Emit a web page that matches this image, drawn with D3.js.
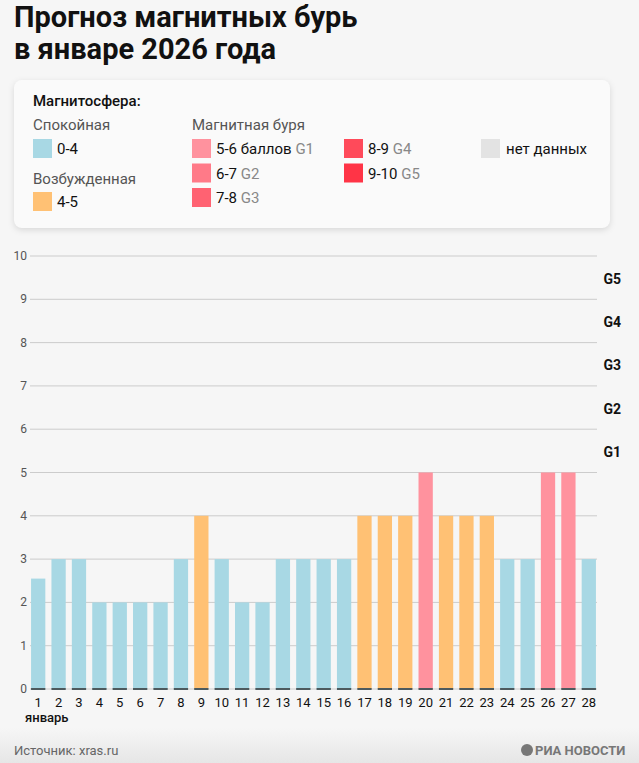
<!DOCTYPE html>
<html><head><meta charset="utf-8">
<script src="https://cdn.jsdelivr.net/npm/d3@7"></script>
<style>body{margin:0;background:#f6f6f6;font-family:Roboto,sans-serif}</style>
</head><body><svg id="c" width="639" height="763"></svg>
<script>
const days = d3.range(1, 29);
const values = [2.55,3,3,2,2,2,2,3,4,3,2,2,3,3,3,3,4,4,4,5,4,4,4,3,3,5,5,3];
const yTicks = d3.range(0, 11);
const gLabels = ["G1","G2","G3","G4","G5"];
const legendLeft = [["Спокойная",null],["0-4","#a8d8e4"],["Возбужденная",null],["4-5","#ffc174"]];
const legendStorm = [["5-6 баллов","G1","#ff929e"],["6-7","G2","#ff7a88"],["7-8","G3","#ff6272"],["8-9","G4","#ff4a5a"],["9-10","G5","#ff3446"]];

const svg = d3.select("#c");
svg.append("rect").attr("width",639).attr("height",763).attr("fill","#f6f6f6");
const grad = svg.append("defs").append("linearGradient").attr("id","fg").attr("x1",0).attr("x2",0).attr("y1",0).attr("y2",1);
grad.append("stop").attr("offset",0).attr("stop-color","#f6f6f6");
grad.append("stop").attr("offset",1).attr("stop-color","#e6e6e6");
svg.append("rect").attr("y",728).attr("width",639).attr("height",35).attr("fill","url(#fg)");

// title
svg.append("text").attr("x",14).attr("y",27).attr("font-size",29).attr("font-weight",700).attr("fill","#111").text("Прогноз магнитных бурь");
svg.append("text").attr("x",14).attr("y",59).attr("font-size",29).attr("font-weight",700).attr("fill","#111").text("в январе 2026 года");

// legend box
svg.append("rect").attr("x",14).attr("y",80).attr("width",596).attr("height",148).attr("rx",8)
  .attr("fill","#fafafa").style("filter","drop-shadow(0 2px 3px rgba(0,0,0,0.12))");
const lg = svg.append("g").attr("font-size",15);
lg.append("text").attr("x",33).attr("y",106).attr("font-weight",500).attr("fill","#111").text("Магнитосфера:");
const leftY = [130,154,184,207];
legendLeft.forEach((d,i)=>{
  if(!d[1]) lg.append("text").attr("x",33).attr("y",leftY[i]).attr("fill","#555").text(d[0]);
  else {
    lg.append("rect").attr("x",33).attr("y",leftY[i]-15).attr("width",19).attr("height",19).attr("fill",d[1]);
    lg.append("text").attr("x",57).attr("y",leftY[i]).attr("fill","#111").text(d[0]);
  }
});
lg.append("text").attr("x",192).attr("y",130).attr("fill","#555").text("Магнитная буря");
legendStorm.forEach((d,i)=>{
  const x = i<3?192:344, y = 154+(i%3)*24.5;
  lg.append("rect").attr("x",x).attr("y",y-15).attr("width",19).attr("height",19).attr("fill",d[2]);
  const t = lg.append("text").attr("x",x+24).attr("y",y).attr("fill","#111").text(d[0]+" ");
  t.append("tspan").attr("fill","#888").text(d[1]);
});
lg.append("rect").attr("x",481).attr("y",139).attr("width",19).attr("height",19).attr("fill","#e3e3e3");
lg.append("text").attr("x",506).attr("y",154).attr("fill","#111").text("нет данных");

// chart
const x = d3.scaleBand().domain(days).range([28,599]).paddingInner(0.3).paddingOuter(0.15);
const y = d3.scaleLinear().domain([0,10]).range([689,256]);
const gy = svg.append("g");
yTicks.forEach(t=>{
  gy.append("line").attr("x1",30).attr("x2",597).attr("y1",y(t)).attr("y2",y(t)).attr("stroke","#ccc");
  gy.append("text").attr("x",27).attr("y",y(t)+4).attr("text-anchor","end").attr("font-size",12).attr("fill","#555").text(t);
});
gLabels.forEach((g,i)=>{
  svg.append("text").attr("x",621).attr("y",y(5.5+i)+6).attr("text-anchor","end").attr("font-size",14).attr("font-weight",700).attr("fill","#111").text(g);
});
const col = v => v>5?"#ff7a88":v>4?"#ff929e":v>3?"#ffc174":"#a8d8e4";
svg.append("g").selectAll("rect").data(values).join("rect")
  .attr("x",(d,i)=>x(days[i])).attr("width",x.bandwidth())
  .attr("y",d=>y(d)).attr("height",d=>y(0)-y(d))
  .attr("fill",d=>col(d));
svg.append("g").selectAll("rect").data(values).join("rect")
  .attr("x",(d,i)=>x(days[i])).attr("width",x.bandwidth())
  .attr("y",y(0)-1).attr("height",2).attr("fill","#4d5a5e");
svg.append("g").selectAll("text").data(days).join("text")
  .attr("x",d=>x(d)+x.bandwidth()/2).attr("y",707).attr("text-anchor","middle")
  .attr("font-size",13).attr("fill","#111").text(d=>d);
svg.append("text").attr("x",25).attr("y",722).attr("font-size",13).attr("font-weight",500).attr("fill","#111").text("январь");

svg.append("text").attr("x",14).attr("y",755).attr("font-size",13).attr("fill","#666").text("Источник: xras.ru");
svg.append("circle").attr("cx",527).attr("cy",750).attr("r",6).attr("fill","#777");
svg.append("text").attr("x",535).attr("y",755).attr("font-size",13).attr("font-weight",700).attr("fill","#777").text("РИА НОВОСТИ");
</script></body></html>
